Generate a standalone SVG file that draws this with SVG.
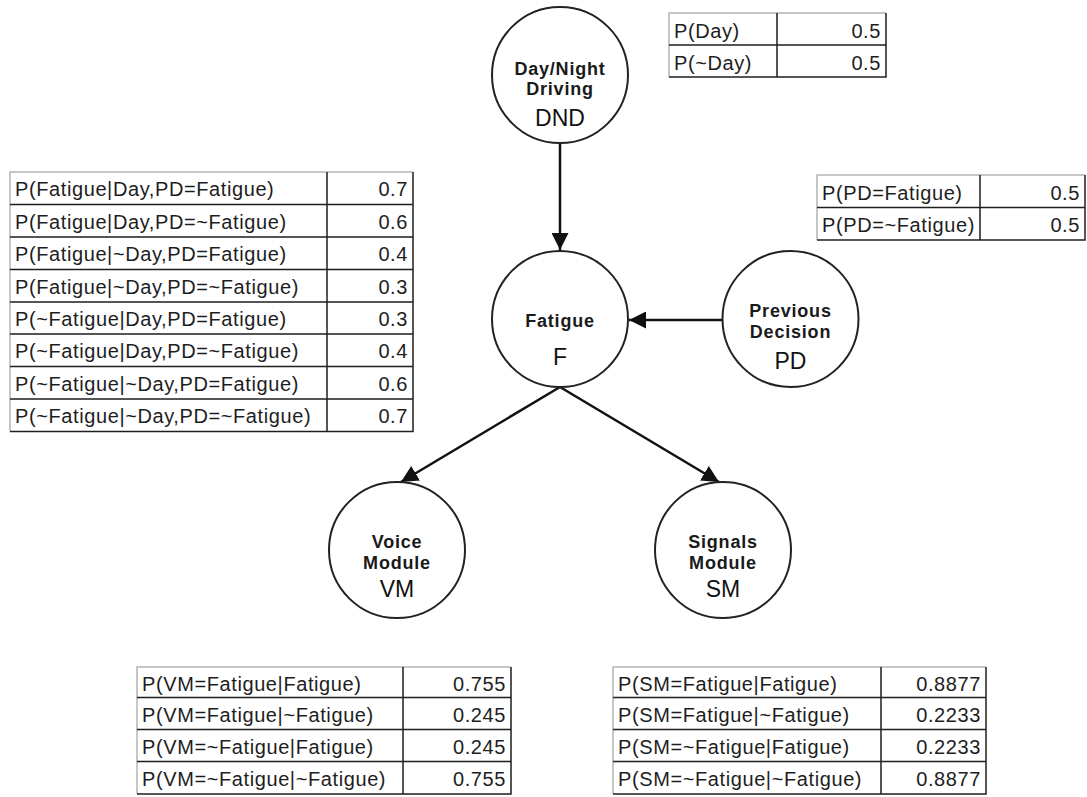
<svg xmlns="http://www.w3.org/2000/svg" width="1087" height="797" viewBox="0 0 1087 797">
  <style>
    .node circle { fill: #ffffff; stroke: #222222; stroke-width: 2; }
    .lbl { font-family: "Liberation Sans", Arial, sans-serif; font-size: 18px; font-weight: bold; letter-spacing: 0.8px; fill: #1a1a1a; text-anchor: middle; }
    .code { font-family: "Liberation Sans", Arial, sans-serif; font-size: 23px; fill: #111111; text-anchor: middle; }
    .edge { stroke: #111111; stroke-width: 2.5; fill: none; marker-end: url(#arrow); }
    .cell { font-family: "Liberation Sans", Arial, sans-serif; font-size: 20px; letter-spacing: 0.6px; fill: #1e1e1e; }
    .num { text-anchor: end; }
    .grid { stroke: #1e1e1e; stroke-width: 1.5; fill: none; }
    .edgeLight { stroke: #b4b4b4; stroke-width: 1.5; fill: none; }
  </style>
  <defs>
    <marker id="arrow" markerUnits="userSpaceOnUse" viewBox="0 0 17 17" markerWidth="17" markerHeight="17" refX="17" refY="8.5" orient="auto">
      <path d="M0,0 L17,8.5 L0,17 z" fill="#111111"/>
    </marker>
  </defs>
  <rect width="1087" height="797" fill="#ffffff"/>

  <!-- connectors -->
  <g id="connectors">
    <line class="edge" x1="560" y1="143" x2="560" y2="250"/>
    <line class="edge" x1="722" y1="320" x2="629" y2="320"/>
    <line class="edge" x1="560" y1="387" x2="401" y2="482"/>
    <line class="edge" x1="560" y1="387" x2="719" y2="482"/>
  </g>

  <!-- nodes -->
  <g id="node-dnd" class="node">
    <circle cx="560" cy="75" r="68"/>
    <text class="lbl" x="560" y="75">Day/Night</text>
    <text class="lbl" x="560" y="95">Driving</text>
    <text class="code" x="560" y="126">DND</text>
  </g>
  <g id="node-f" class="node">
    <circle cx="560" cy="319" r="68"/>
    <text class="lbl" x="560" y="327">Fatigue</text>
    <text class="code" x="560" y="365">F</text>
  </g>
  <g id="node-pd" class="node">
    <circle cx="790.5" cy="319" r="68"/>
    <text class="lbl" x="790.5" y="317">Previous</text>
    <text class="lbl" x="790.5" y="338">Decision</text>
    <text class="code" x="790.5" y="369">PD</text>
  </g>
  <g id="node-vm" class="node">
    <circle cx="397" cy="550" r="68"/>
    <text class="lbl" x="397" y="548">Voice</text>
    <text class="lbl" x="397" y="569">Module</text>
    <text class="code" x="397" y="597">VM</text>
  </g>
  <g id="node-sm" class="node">
    <circle cx="723" cy="550" r="68"/>
    <text class="lbl" x="723" y="548">Signals</text>
    <text class="lbl" x="723" y="569">Module</text>
    <text class="code" x="723" y="597">SM</text>
  </g>

  <!-- prior table for DND -->
  <g id="table-dnd">
    <path class="edgeLight" d="M669,77 V13 H886"/>
    <path class="grid" d="M886,13 V77 H669 M669,45 H886 M777,13 V77"/>
    <text class="cell" x="674" y="38">P(Day)</text>
    <text class="cell num" x="881" y="38">0.5</text>
    <text class="cell" x="674" y="70">P(~Day)</text>
    <text class="cell num" x="881" y="70">0.5</text>
  </g>

  <!-- prior table for PD -->
  <g id="table-pd">
    <path class="edgeLight" d="M817,240 V175 H1085"/>
    <path class="grid" d="M1085,175 V240 H817 M817,207.5 H1085 M980,175 V240"/>
    <text class="cell" x="822" y="200">P(PD=Fatigue)</text>
    <text class="cell num" x="1080" y="200">0.5</text>
    <text class="cell" x="822" y="232">P(PD=~Fatigue)</text>
    <text class="cell num" x="1080" y="232">0.5</text>
  </g>

  <!-- conditional table for F -->
  <g id="table-f">
    <path class="edgeLight" d="M10,431.5 V172 H413"/>
    <path class="grid" d="M413,172 V431.5 H10 M10,204.5 H413 M10,237 H413 M10,269.5 H413 M10,302 H413 M10,334 H413 M10,366.5 H413 M10,399 H413 M327,172 V431.5"/>
    <text class="cell" x="15" y="196">P(Fatigue|Day,PD=Fatigue)</text>
    <text class="cell num" x="408" y="196">0.7</text>
    <text class="cell" x="15" y="228.5">P(Fatigue|Day,PD=~Fatigue)</text>
    <text class="cell num" x="408" y="228.5">0.6</text>
    <text class="cell" x="15" y="261">P(Fatigue|~Day,PD=Fatigue)</text>
    <text class="cell num" x="408" y="261">0.4</text>
    <text class="cell" x="15" y="293.5">P(Fatigue|~Day,PD=~Fatigue)</text>
    <text class="cell num" x="408" y="293.5">0.3</text>
    <text class="cell" x="15" y="326">P(~Fatigue|Day,PD=Fatigue)</text>
    <text class="cell num" x="408" y="326">0.3</text>
    <text class="cell" x="15" y="358">P(~Fatigue|Day,PD=~Fatigue)</text>
    <text class="cell num" x="408" y="358">0.4</text>
    <text class="cell" x="15" y="390.5">P(~Fatigue|~Day,PD=Fatigue)</text>
    <text class="cell num" x="408" y="390.5">0.6</text>
    <text class="cell" x="15" y="423">P(~Fatigue|~Day,PD=~Fatigue)</text>
    <text class="cell num" x="408" y="423">0.7</text>
  </g>

  <!-- conditional table for VM -->
  <g id="table-vm">
    <path class="edgeLight" d="M137,794 V667 H511"/>
    <path class="grid" d="M511,667 V794 H137 M137,697.5 H511 M137,729.5 H511 M137,761.5 H511 M403,667 V794"/>
    <text class="cell" x="142" y="691">P(VM=Fatigue|Fatigue)</text>
    <text class="cell num" x="506" y="691">0.755</text>
    <text class="cell" x="142" y="722">P(VM=Fatigue|~Fatigue)</text>
    <text class="cell num" x="506" y="722">0.245</text>
    <text class="cell" x="142" y="754">P(VM=~Fatigue|Fatigue)</text>
    <text class="cell num" x="506" y="754">0.245</text>
    <text class="cell" x="142" y="786">P(VM=~Fatigue|~Fatigue)</text>
    <text class="cell num" x="506" y="786">0.755</text>
  </g>

  <!-- conditional table for SM -->
  <g id="table-sm">
    <path class="edgeLight" d="M613,794 V667 H986"/>
    <path class="grid" d="M986,667 V794 H613 M613,697.5 H986 M613,729.5 H986 M613,761.5 H986 M881,667 V794"/>
    <text class="cell" x="618" y="691">P(SM=Fatigue|Fatigue)</text>
    <text class="cell num" x="981" y="691">0.8877</text>
    <text class="cell" x="618" y="722">P(SM=Fatigue|~Fatigue)</text>
    <text class="cell num" x="981" y="722">0.2233</text>
    <text class="cell" x="618" y="754">P(SM=~Fatigue|Fatigue)</text>
    <text class="cell num" x="981" y="754">0.2233</text>
    <text class="cell" x="618" y="786">P(SM=~Fatigue|~Fatigue)</text>
    <text class="cell num" x="981" y="786">0.8877</text>
  </g>
</svg>
